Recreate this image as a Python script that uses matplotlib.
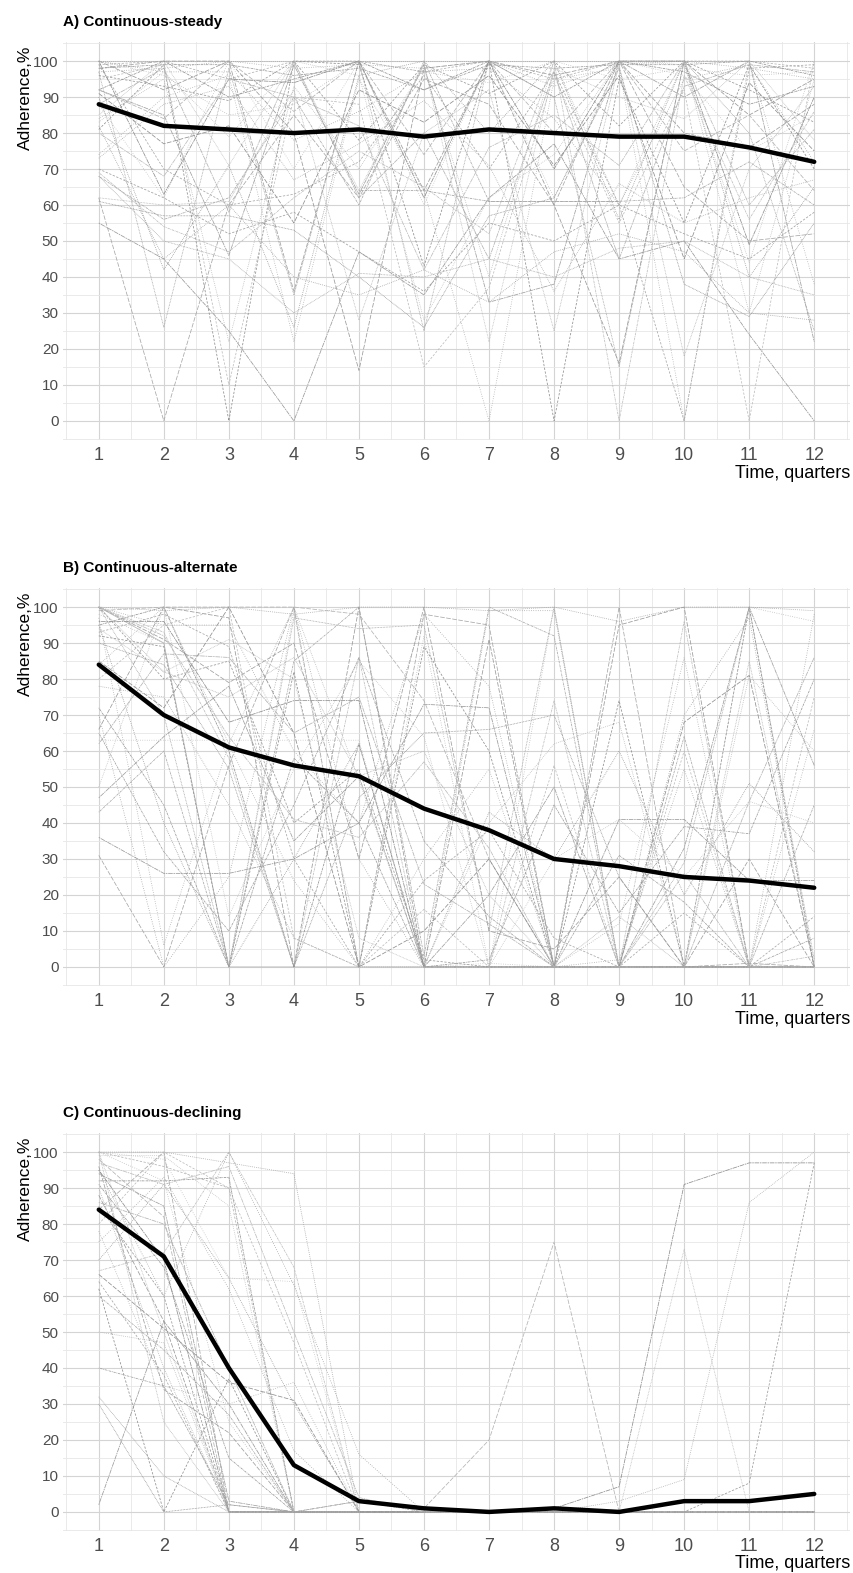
import numpy as np
import matplotlib
matplotlib.use("Agg")
import matplotlib.pyplot as plt

quarters = list(range(1, 13))
titles = ["A) Continuous-steady", "B) Continuous-alternate", "C) Continuous-declining"]

# group means (thick black line)
mean_a = [88, 82, 81, 80, 81, 79, 81, 80, 79, 79, 76, 72]
mean_b = [84, 70, 61, 56, 53, 44, 38, 30, 28, 25, 24, 22]
mean_c = [84, 71, 40, 13, 3, 1, 0, 1, 0, 3, 3, 5]

# individual trajectories (None = missing)
lines_a = [
    [100, 100, 100, 100, 100, 100, 100, 100, 100, 100, 100, 100],
    [99, 100, 95, 100, 100, 97, 100, 95, 100, 100, 100, 98],
    [92, 100, 90, 95, 100, 92, 100, 90, 100, 97, 88, 93],
    [88, 62, 100, 70, 100, 60, 100, 62, 100, 96, 75, 85],
    [62, 0, 60, 85, 62, 95, 88, 60, 100, 65, 50, 52],
    [55, 45, 25, 0, 47, 35, 62, 77, 45, 50, 24, 0],
    [97, 26, 98, 35, 100, 25, 100, 90, 15, 100, 80, 25],
    [84, 95, 22, 93, 70, 98, 40, 100, 60, 100, 30, 95],
    [81, 99, 0, 100, 99, 43, 100, 0, 95, 55, 99, 70],
    [69, 54, 47, 62, 75, 65, 52, 100, 0, 96, 56, 86],
    [74, 90, 96, 22, 95, 64, 0, 95, 98, 0, 100, 38],
    [100, 92, 100, 80, 14, 98, 100, 60, 16, 100, 85, 95],
    [92, 85, 46, 99, 63, 99, 33, 38, 100, 90, 100, 22],
    [62, 60, 61, 92, 28, 80, 92, 25, 99, 18, 70, 93],
    [90, 42, 71, 26, 96, 100, 80, 100, 56, 100, 40, 65],
    [95, 99, 10, 90, 88, 15, 37, 96, 55, 92, 0, 100],
    [68, 56, 62, 90, 60, 100, 61, 61, 61, 62, 72, 60],
    [100, 97, 97, 78, 86, 97, 98, 84, 60, 95, 99, 72],
    [98, 100, 100, 36, 100, 64, 100, 96, 100, 80, 76, 88],
    [88, 98, 58, 100, 62, 80, 45, 97, 45, 93, 99, 97],
    [61, 57, 57, 53, 40, 26, 57, 62, 98, 38, 29, 55],
    [83, 97, 79, 100, 96, 28, 62, 74, 100, 99, 44, 100],
    [99, 70, 60, 63, 72, 96, 70, 97, 60, 0, 98, 99],
    [98, 99, 99, 96, 98, 92, 99, 98, 99, 99, 100, 96],
    [97, 98, 100, 98, 99, 98, 100, 93, 99, 100, 98, 95],
    [92, 84, 100, 86, 100, 74, 100, 80, 100, 75, 85, 64],
    [100, 63, 95, 94, 100, 62, 100, 70, 100, 100, 49, 90],
    [85, 100, 71, 100, 64, 99, 22, 98, 90, 84, 100, 78],
    [73, 88, 93, 67, 77, 89, 71, 36, 66, 55, 62, 67],
    [96, 93, 89, 100, 78, 99, 91, 100, 82, 100, 92, 83],
    [None, None, None, None, 64, 64, 61, 61, 61, None, None, None],
    [100, 96, 85, 88, 100, 97, 94, 100, 95, 98, 96, 97],
    [91, 77, 82, 55, 92, 83, 96, 71, 96, 45, 94, 75],
    [80, 68, 95, 90, 82, 42, 76, 85, 71, 100, 60, 81],
    [68, 50, 45, 30, 41, 40, 45, 40, 48, 50, 40, 35],
    [82, 45, 60, 40, 35, 42, 33, 47, 52, 47, 30, 28],
    [70, 62, 52, 58, 47, 36, 55, 50, 60, 52, 45, 58],
]

lines_b = [
    [100, 99, 100, 98, 100, 100, 99, 100, 96, 100, 100, 99],
    [100, 90, 0, 0, 0, 0, 0, 0, 0, 0, 0, 0],
    [95, 100, 60, 0, 62, 0, 0, 0, 0, 0, 0, 0],
    [63, 63, 63, 63, 63, 0, 1, 0, 0, 0, 0, 0],
    [31, 0, 56, 100, 0, 98, 95, 0, 100, 0, 1, 0],
    [36, 26, 26, 30, 40, 73, 72, 0, 41, 41, 24, 24],
    [100, 70, 0, 97, 94, 95, 10, 100, 0, 29, 100, 2],
    [84, 100, 62, 100, 52, 0, 40, 62, 68, 0, 81, 60],
    [92, 89, 0, 82, 0, 89, 60, 0, 74, 0, 100, 0],
    [100, 93, 58, 0, 86, 0, 0, 74, 0, 96, 0, 3],
    [97, 6, 62, 24, 0, 30, 55, 0, 12, 86, 0, 66],
    [66, 100, 97, 0, 100, 0, 91, 0, 95, 100, 0, 0],
    [47, 64, 78, 35, 53, 0, 20, 50, 0, 33, 100, 56],
    [100, 82, 75, 86, 53, 60, 20, 0, 14, 0, 85, 0],
    [95, 40, 0, 30, 62, 0, 43, 30, 60, 20, 51, 32],
    [80, 95, 100, 8, 0, 16, 0, 56, 0, 60, 0, 75],
    [43, 60, 0, 85, 100, 3, 100, 92, 0, 64, 0, 45],
    [70, 0, 25, 100, 30, 0, 99, 99, 0, 70, 97, 0],
    [100, 91, 79, 90, 30, 100, 10, 5, 25, 0, 30, 0],
    [62, 87, 86, 65, 75, 23, 12, 0, 0, 0, 46, 86],
    [90, 84, 55, 0, 47, 65, 66, 70, 25, 0, 0, 0],
    [50, 100, 14, 55, 85, 64, 0, 30, 41, 25, 46, 40],
    [93, 98, 89, 30, 0, 24, 38, 8, 0, 15, 0, 14],
    [72, 45, 0, 58, 40, 0, 2, 45, 15, 39, 37, 80],
    [100, 95, 95, 60, 40, 98, 78, 0, 2, 55, 0, 98],
    [99, 100, 100, 100, 98, 74, 30, 0, 0, 0, 0, 0],
    [96, 96, 68, 74, 74, 0, 0, 0, 0, 0, 0, 0],
    [94, 82, 91, 80, 8, 0, 0, 0, 0, 0, 0, 0],
    [78, 75, 45, 8, 0, 0, 0, 0, 0, 0, 0, 0],
    [100, 80, 85, 40, 55, 2, 0, 0, 0, 0, 0, 0],
    [65, 32, 10, 45, 86, 35, 14, 0, 31, 18, 0, 8],
    [98, 90, 0, 99, 0, 92, 0, 100, 0, 0, 100, 96],
    [85, 72, 100, 65, 0, 10, 30, 0, 0, 68, 81, 0],
    [100, 92, 64, 41, 36, 57, 33, 0, 0, 26, 0, 0],
]

lines_c = [
    [100, 100, 97, 94, 0, 0, 0, 0, 0, 0, 0, 0],
    [100, 96, 90, 0, 0, 0, 0, 0, 0, 0, 0, 0],
    [92, 92, 93, 0, 0, 0, 0, 0, 0, 0, 0, 0],
    [100, 98, 65, 64, 0, 0, 0, 0, 0, 0, 0, 0],
    [84, 100, 0, 0, 0, 0, 0, 0, 0, 0, 0, 0],
    [2, 53, 30, 0, 0, 0, 0, 0, 0, 0, 0, 0],
    [32, 10, 0, 0, 0, 0, 0, 0, 0, 0, 0, 0],
    [50, 47, 0, 0, 0, 0, 0, 0, 0, 0, 0, 0],
    [62, 0, 37, 0, 0, 0, 0, 0, 0, 0, 0, 0],
    [67, 72, 100, 68, 0, 0, 0, 0, 0, 0, 0, 0],
    [78, 35, 30, 36, 0, 0, 0, 0, 0, 0, 0, 0],
    [88, 53, 0, 0, 0, 0, 0, 0, 0, 0, 0, 0],
    [94, 85, 3, 0, 0, 0, 0, 0, 0, 0, 0, 0],
    [100, 25, 0, 0, 0, 0, 0, 0, 0, 0, 0, 0],
    [70, 91, 65, 30, 0, 0, 0, 0, 0, 0, 0, 0],
    [80, 100, 90, 47, 0, 0, 0, 0, 0, 0, 0, 0],
    [60, 45, 27, 0, 0, 0, 0, 0, 0, 0, 0, 0],
    [95, 60, 100, 63, 16, 0, 0, 0, 0, 0, 0, 0],
    [96, 34, 22, 0, 0, 0, 0, 0, 0, 0, 0, 0],
    [86, 80, 40, 0, 0, 0, 0, 0, 0, 0, 0, 0],
    [30, 0, 2, 0, 0, 0, 0, 0, 0, 0, 0, 0],
    [99, 99, 85, 0, 0, 0, 0, 0, 0, 0, 0, 0],
    [64, 38, 0, 0, 0, 0, 0, 0, 0, 0, 0, 0],
    [91, 68, 15, 0, 3, 0, 0, 0, 0, 0, 0, 0],
    [75, 93, 62, 17, 0, 0, 0, 0, 0, 0, 0, 0],
    [98, 82, 0, 0, 3, 1, 20, 75, 0, 0, 0, 0],
    [95, 70, 0, 0, 0, 0, 0, 1, 7, 91, 97, 97],
    [100, 50, 0, 0, 0, 0, 0, 0, 0, 73, 0, None],
    [90, 40, 0, 0, 0, 0, 0, 0, 3, 9, 86, 100],
    [85, 60, 0, 0, 0, 0, 0, 0, 0, 0, 8, 97],
    [40, 35, 2, 0, 0, 0, 0, 0, 0, 0, 0, 0],
    [100, 92, 25, 0, 0, 0, 0, 0, 0, 0, 0, 0],
    [66, 51, 36, 31, 0, 0, 0, 0, 0, 0, 0, 0],
    [97, 91, 96, 50, 4, 0, 0, 0, 0, 0, 0, 0],
]

means = [mean_a, mean_b, mean_c]
groups = [lines_a, lines_b, lines_c]

dashes = [(0, (1, 1.5)), (0, (3, 2)), (0, (1, 1, 3, 1)), (0, (1, 2)), (0, (6, 2)),
          (0, (2, 1, 6, 1)), (0, (1, 1))]
greys = ["#a0a0a0", "#b4b4b4", "#8f8f8f", "#bdbdbd", "#a8a8a8", "#9a9a9a"]

plt.rcParams['font.family'] = ['Liberation Sans Narrow', 'Liberation Sans', 'DejaVu Sans']

fig = plt.figure(figsize=(8.54, 15.73), dpi=100)
W, H = 854, 1573
tops = [42, 588, 1133]
ax_h = 398

for i in range(3):
    ax = fig.add_axes([63 / W, 1 - (tops[i] + ax_h) / H, 787 / W, ax_h / H])
    for j, vals in enumerate(groups[i]):
        y = np.array(vals, dtype=float)
        ls = dashes[j % len(dashes)]
        # the long flat stretches (e.g. the zero line in B) show up as solid
        if i == 1 and j == 1:
            ls = "-"
        ax.plot(quarters, y, color=greys[j % len(greys)], lw=0.55,
                linestyle=ls, zorder=2)
    ax.plot(quarters, means[i], color="black", lw=3.2, zorder=3,
            solid_capstyle="round", solid_joinstyle="round")

    ax.set_xlim(0.45, 12.55)
    ax.set_ylim(-5.3, 105.3)
    ax.set_xticks(quarters)
    ax.set_xticks(np.arange(0.5, 13, 1), minor=True)
    ax.set_yticks(range(0, 101, 10))
    ax.set_yticks(np.arange(-5, 106, 10), minor=True)
    ax.grid(which="major", color="#d4d4d4", lw=0.8, zorder=0)
    ax.grid(which="minor", color="#e6e6e6", lw=0.6, zorder=0)
    for s in ax.spines.values():
        s.set_visible(False)
    ax.tick_params(which="both", length=0)
    ax.tick_params(axis="y", labelsize=11, labelcolor="#4d4d4d", pad=3)
    ax.tick_params(axis="x", labelsize=13, labelcolor="#4d4d4d", pad=5)

    ax.text(0, 1 + 20 / ax_h, titles[i], transform=ax.transAxes, ha="left",
            va="center", fontsize=11, fontweight="bold")
    ax.text(-38 / 787, 0.99, "Adherence,%", transform=ax.transAxes, rotation=90,
            ha="center", va="top", fontsize=12.5)
    ax.text(1, -33 / ax_h, "Time, quarters", transform=ax.transAxes, ha="right",
            va="center", fontsize=13)

fig.savefig("out.png", dpi=100)
